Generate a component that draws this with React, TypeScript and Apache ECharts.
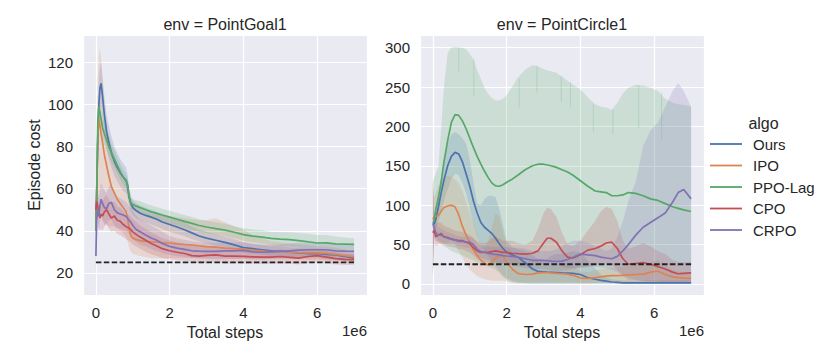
import React, { useEffect, useRef } from 'react';
import * as echarts from 'echarts';

// ---------- data ----------
const ALGOS = ['Ours', 'IPO', 'PPO-Lag', 'CPO', 'CRPO'];
const COLORS = ['#4C72B0', '#DD8452', '#55A868', '#C44E52', '#8172B3'];
const COST_LIMIT = 25;
const STEP_END = 7;

// PointGoal1 (x in 1e6 steps)
const GOAL_STEPS = [0, 0.02, 0.05, 0.08, 0.11, 0.14, 0.18, 0.23, 0.29, 0.35,
  0.42, 0.5, 0.58, 0.66, 0.74, 0.82, 0.86, 0.9, 0.95, 1.0,
  1.1, 1.2, 1.35, 1.5, 1.65, 1.8, 2.0, 2.2, 2.4, 2.6,
  2.8, 3.0, 3.25, 3.5, 3.75, 4.0, 4.25, 4.5, 4.75, 5.0,
  5.25, 5.5, 5.75, 6.0, 6.25, 6.5, 6.75, 7.0];

const GOAL_OURS_MEAN = [45, 58, 82, 100, 108, 110, 104, 95, 87, 82,
  77, 73, 70, 67.5, 65.5, 64, 61, 56, 53, 51,
  49.5, 48.3, 47.3, 46.5, 45.5, 44.2, 43, 41.8, 40.5, 39,
  37.5, 36.5, 35.5, 34.5, 33.3, 32, 31.5, 31, 30.5, 30.4,
  29.8, 29.5, 29.2, 29.2, 28.8, 28.5, 27.8, 27];
const GOAL_OURS_LO = [20, 45, 68, 88, 98, 100, 95, 86, 79, 74,
  70, 66, 63.5, 61, 59, 58, 56, 51.5, 49, 47.5,
  46, 45, 44, 43, 42, 40.8, 39.5, 38.5, 37.5, 36,
  35, 34, 33, 32.2, 31, 29.5, 29.2, 28.6, 28.2, 28,
  27.5, 27.2, 26.8, 26.8, 26.4, 26.2, 25.6, 25];
const GOAL_OURS_HI = [60, 70, 95, 112, 118, 120, 113, 104, 95, 90,
  85, 80, 77, 74, 72, 70, 66.5, 60.5, 57, 54.5,
  53, 52, 51, 50, 49, 47.8, 46.5, 45.5, 44, 42,
  40.5, 39.5, 38.3, 37.2, 36, 34.5, 33.8, 33.4, 32.8, 32.8,
  32.1, 31.8, 31.6, 31.6, 31.2, 30.8, 30, 29.2];

const GOAL_IPO_MEAN = [40, 55, 85, 93, 90, 86, 82, 76, 71, 66,
  61, 58, 55, 53, 51, 49, 46, 41, 37.5, 36.5,
  35.8, 35.3, 35, 34.8, 34.6, 34.4, 34.2, 33.8, 33.5, 33.2,
  32.8, 32.5, 32.2, 31.8, 31.5, 31.3, 30.8, 30.5, 30, 30.2,
  29.8, 29.6, 29.5, 29.5, 29.3, 28.8, 28.2, 27.6];
const GOAL_IPO_LO = [20, 45, 60, 55, 50, 47, 45, 44, 43, 42,
  42, 42, 41, 40, 39, 37, 35, 32, 30, 29,
  28.5, 28, 27.5, 27, 27, 27, 27, 27, 27, 27,
  27, 27, 27, 26.8, 26.6, 26.5, 26.5, 26.5, 26.5, 26.5,
  26.4, 26.3, 26.2, 26, 26, 25.8, 25.6, 25.4];
const GOAL_IPO_HI = [60, 68, 112, 124, 127, 122, 112, 100, 92, 85,
  80, 76, 72, 70, 66, 62, 60, 57, 55, 53.5,
  52, 50, 49, 48, 47.8, 47.5, 47, 46.5, 46, 45.5,
  45, 45, 46, 44, 42, 40.5, 38, 36.5, 35, 34.5,
  34, 33.6, 33.2, 32.8, 32.5, 32, 31.2, 30];

const GOAL_PPO_MEAN = [40, 55, 92, 99, 96, 93, 89, 86, 83, 80,
  77, 74, 71, 68, 65.5, 63.5, 62, 56, 53, 52.5,
  51.7, 51, 50, 49, 48.3, 47.5, 46.5, 45.5, 44.5, 43.5,
  42.5, 41.8, 41, 40.3, 39.3, 38.2, 37.5, 37, 36.4, 36,
  35.8, 35.3, 34.8, 34.2, 34.3, 33.8, 33.7, 33.5];
const GOAL_PPO_LO = [22, 48, 86, 94, 91, 88, 84, 81, 78, 75.5,
  72.5, 70, 67, 64.5, 62, 60, 58.5, 53, 50.5, 49.5,
  48.8, 48, 47, 46, 45.3, 44.5, 43.5, 42.5, 41.5, 40.5,
  39.5, 39, 38.2, 37.4, 36.4, 35.3, 34.5, 34, 33.3, 32.8,
  32.5, 32, 31.5, 31, 31, 30.6, 30.5, 30.3];
const GOAL_PPO_HI = [58, 62, 98, 104, 101, 98, 94, 91, 88, 85,
  81.5, 78.5, 75, 71.5, 69, 67, 65.5, 59, 55.5, 55,
  54.5, 54, 53, 52, 51.3, 50.5, 49.5, 48.5, 47.5, 46.5,
  45.5, 44.8, 44, 43.3, 42.3, 41.2, 40.6, 40.2, 39.6, 39.3,
  39.3, 39, 38.6, 38, 38, 37.3, 36.8, 36.5];

const GOAL_CPO_MEAN = [50, 54, 52, 48, 46, 48, 47, 49, 50, 48,
  46, 47, 45, 44.5, 43, 42, 41.5, 41.3, 40.5, 39.5,
  38.2, 37, 35.5, 34, 32.8, 31.5, 30.5, 29.8, 29.2, 28.2,
  28, 28.3, 28.6, 28, 28, 27.8, 27.6, 27.5, 27.5, 27.8,
  27.4, 27, 27.8, 28.2, 27.5, 26.8, 26.4, 26.3];
const GOAL_CPO_LO = [22, 46, 45, 41, 40, 41, 40, 42, 43, 41,
  39.5, 40, 38.5, 38, 37, 36, 35.5, 35, 34.5, 33.5,
  32.5, 31.5, 30, 28.8, 28, 27, 26.5, 26, 25.8, 25.3,
  24.6, 24.6, 25, 24.4, 24.5, 24.4, 24.3, 24.2, 24.3, 24.5,
  24.3, 24, 24.6, 25, 24.5, 24, 23.8, 23.8];
const GOAL_CPO_HI = [56, 60, 59, 55, 53, 55, 54, 56, 57, 55,
  53, 54, 51.5, 51, 49.5, 48, 47.5, 47.5, 46.5, 45.5,
  44, 42.5, 41, 39.2, 38, 36.6, 35.5, 34.5, 33.8, 32.5,
  32.2, 32.4, 32.6, 31.6, 31.5, 31.2, 30.9, 30.8, 30.7, 31.1,
  30.5, 30, 31, 31.4, 30.5, 29.6, 29, 28.8];

const GOAL_CRPO_MEAN = [28, 45, 50, 47, 52, 55, 53, 51, 50.5, 53,
  53.5, 50, 48.5, 48, 47.5, 46.8, 46, 45, 44, 42.5,
  40.5, 39.5, 38, 36.6, 35.5, 34, 32.6, 31.8, 31.2, 30.5,
  30.3, 30.2, 30.2, 30.5, 30.5, 30.7, 30, 29.8, 30, 30.2,
  30.5, 30.8, 31, 31, 31, 30.5, 30.3, 30.2];
const GOAL_CRPO_LO = [14, 35, 42, 40, 44, 47, 45, 43, 43, 45,
  45.5, 42.5, 41.5, 41, 40.5, 39.8, 39.3, 38.5, 37.5, 36,
  34.5, 33.5, 32.5, 31.5, 30.5, 29.5, 28.5, 28, 27.6, 27.2,
  26.8, 26.6, 26.4, 26.5, 26.6, 26.8, 26.4, 26.3, 26.6, 26.8,
  27, 27.3, 27.5, 27.6, 27.6, 27.3, 27.1, 27];
const GOAL_CRPO_HI = [45, 54, 58, 56, 60, 63, 61, 59, 58, 61,
  61.5, 57.5, 56, 55.5, 54.5, 53.8, 52.7, 51.5, 50.5, 49,
  47, 45.5, 44, 42.5, 41, 39.5, 37.5, 36.5, 35.8, 35,
  34.6, 34.4, 34.2, 34.5, 34.4, 34.6, 33.6, 33.3, 33.4, 33.6,
  34, 34.3, 34.5, 34.4, 34.4, 33.7, 33.5, 33.4];

// PointCircle1
const CIRCLE_STEPS = [0, 0.03, 0.08, 0.15, 0.22, 0.3, 0.4, 0.5, 0.6, 0.7,
  0.8, 0.9, 1.0, 1.1, 1.2, 1.3, 1.4, 1.5, 1.6, 1.7,
  1.8, 1.9, 2.0, 2.15, 2.3, 2.5, 2.7, 2.85, 3.0, 3.1,
  3.2, 3.35, 3.5, 3.65, 3.8, 4.0, 4.2, 4.4, 4.55, 4.7,
  4.85, 5.0, 5.15, 5.3, 5.5, 5.7, 5.9, 6.1, 6.3, 6.5,
  6.65, 6.8, 7.0];

const CIRCLE_OURS_MEAN = [78, 76, 82, 98, 115, 132, 150, 162, 167, 165,
  155, 140, 124, 105, 90, 78, 72, 68, 64, 58,
  51, 45, 40, 37, 34, 27, 19, 16, 15.5, 15,
  14.8, 14.5, 14, 13.8, 13.5, 12, 8, 6, 4.5, 3.5,
  2.5, 2, 1.5, 1.5, 1.5, 1.5, 1.5, 1.5, 1.5, 1.5,
  1.5, 1.5, 1.5];
const CIRCLE_OURS_LO = [10, 65, 70, 80, 90, 105, 120, 133, 140, 138,
  128, 115, 95, 75, 60, 50, 42, 35, 28, 22,
  16, 11, 7, 4, 2, 1, 0.5, 0.5, 0.5, 0.5,
  0.5, 0.5, 0.5, 0.5, 0.5, 0.5, 0.5, 0.5, 0.5, 0.5,
  0.5, 0.5, 0.5, 0.5, 0.5, 0.5, 0.5, 0.5, 0.5, 0.5,
  0.5, 0.5, 0.5];
const CIRCLE_OURS_HI = [125, 90, 95, 115, 135, 158, 178, 190, 193, 190,
  185, 178, 158, 128, 102, 100, 108, 112, 112, 110,
  95, 75, 55, 47, 44, 42, 36, 32, 30, 32,
  36, 38, 38, 40, 42, 40, 30, 20, 12, 8,
  6, 5, 4.5, 4.5, 4.5, 4.5, 4.5, 4.5, 4.5, 4.5,
  4.5, 4.5, 4.5];

const CIRCLE_IPO_MEAN = [82, 85, 86, 87, 92, 97, 99, 100, 98, 88,
  73, 62, 53, 43, 36, 30, 26, 24, 28, 33,
  36, 36, 28, 19, 13.5, 12, 12.5, 14, 14.5, 14.5,
  14, 13.5, 13, 12.5, 11, 7.5, 7, 8, 9, 10,
  10.5, 10.5, 11, 11.5, 12, 12.5, 15, 16.5, 12, 9,
  8, 7.5, 7.2];
const CIRCLE_IPO_LO = [10, 60, 55, 52, 50, 50, 52, 55, 50, 42,
  33, 25, 18, 14, 10, 8, 6, 5, 4, 4,
  4, 4, 3, 2, 2, 2, 2, 2, 2, 2,
  2, 2, 2, 2, 2, 1, 1, 1.5, 2, 2,
  2, 2, 2, 2, 2, 2, 3, 3, 2.5, 2,
  2, 2, 2];
const CIRCLE_IPO_HI = [130, 110, 115, 125, 133, 136, 137, 136, 133, 128,
  118, 105, 90, 76, 62, 50, 45, 55, 72, 90,
  85, 65, 50, 40, 30, 26, 25, 26, 27, 27,
  26, 25, 24, 24, 22, 16, 15, 17, 19, 20,
  21, 21, 22, 23, 24, 25, 28, 30, 24, 18,
  16, 15, 14];

const CIRCLE_PPO_MEAN = [78, 80, 95, 110, 128, 155, 182, 205, 215, 214,
  207, 197, 185, 173, 162, 152, 143, 135, 128, 124.5,
  124, 126, 129, 133, 138, 145, 150, 152, 152, 151,
  150, 148, 145, 142, 138, 131, 124, 118, 117, 116,
  112, 112, 113, 116, 115, 112, 108, 106, 102, 98,
  96, 94, 92];
const CIRCLE_PPO_LO = [10, 70, 65, 55, 50, 48, 45, 42, 40, 38,
  36, 34, 32, 30, 28, 26, 24, 22, 20, 18,
  14, 9, 5, 2, 1, 1, 1, 1, 1, 1,
  1, 1, 1, 1, 1, 1, 1, 1, 1, 1,
  1, 1, 1, 1, 1, 1, 1, 1, 1, 1,
  1, 1, 1];
const CIRCLE_PPO_HI = [130, 135, 140, 150, 195, 250, 293, 300, 301, 300,
  300, 298, 292, 285, 272, 260, 249, 241, 236, 233,
  233, 235, 240, 250, 262, 272, 278, 276, 273, 271,
  270, 268, 263, 258, 253, 247, 237, 228, 225, 224,
  221, 230, 242, 249, 253, 252, 249, 245, 235, 230,
  228, 227, 225];
// thin downward notches in the PPO-Lag upper band edge: [step, from, to]
const CIRCLE_PPO_NOTCH_STEPS = [0.7, 1.11, 2.34, 2.82, 3.48, 3.73, 4.35, 4.88, 5.58, 6.2];
const CIRCLE_PPO_NOTCH_FROM = [300, 285, 260, 277, 264, 256, 228, 221, 252, 243];
const CIRCLE_PPO_NOTCH_TO = [270, 238, 224, 243, 231, 224, 193, 190, 198, 184];

const CIRCLE_CPO_MEAN = [65, 68, 60, 62, 64, 60, 59, 57, 56, 55,
  55, 53, 51, 46, 42, 40, 40, 40, 41, 42,
  41, 40, 40, 39, 38.5, 38, 39, 42, 52, 58,
  58, 53, 42, 34, 33, 37, 43, 45, 48, 52,
  53, 45, 32, 25, 26, 27, 25, 22, 19, 15,
  13, 13.5, 14];
const CIRCLE_CPO_LO = [10, 52, 48, 50, 52, 50, 48, 47, 46, 44,
  44, 42, 40, 36, 32, 30, 28, 27, 27, 26,
  26, 26, 26, 25, 25, 24, 24, 24, 25, 26,
  26, 25, 22, 20, 20, 20, 22, 24, 25, 26,
  24, 18, 10, 5, 5, 4, 3, 3, 2, 2,
  2, 2, 2];
const CIRCLE_CPO_HI = [130, 85, 78, 78, 78, 74, 72, 70, 68, 67,
  66, 64, 62, 58, 54, 52, 52, 54, 58, 60,
  58, 55, 55, 55, 52, 50, 55, 70, 90, 97,
  95, 85, 65, 50, 48, 55, 68, 80, 92, 98,
  95, 80, 55, 45, 48, 52, 48, 42, 38, 30,
  28, 28, 28];

const CIRCLE_CRPO_MEAN = [76, 72, 65, 62, 62, 60, 58, 57, 56, 54,
  54, 53, 53, 50, 44, 41, 40, 39, 38, 37.5,
  37, 36, 35.5, 35, 34, 32, 30, 30, 30, 29.5,
  29, 28.5, 29, 31, 34, 38, 37, 36, 34, 33,
  32, 35, 42, 50, 62, 72, 78, 84, 90, 104,
  116, 120, 108];
const CIRCLE_CRPO_LO = [10, 60, 55, 54, 54, 52, 50, 50, 50, 48,
  48, 46, 46, 42, 36, 33, 32, 30, 29, 28,
  27, 26, 25, 24, 22, 20, 19, 19, 19, 18,
  17, 16, 16, 17, 19, 22, 22, 22, 21, 20,
  18, 15, 12, 8, 5, 3, 2, 1.5, 1.5, 1.5,
  1.5, 1.5, 1.5];
const CIRCLE_CRPO_HI = [130, 85, 78, 72, 70, 68, 66, 64, 62, 61,
  60, 60, 60, 58, 52, 49, 48, 48, 47, 47,
  47, 47, 47, 46, 46, 45, 42, 42, 42, 42,
  42, 44, 48, 52, 55, 55, 52, 48, 45, 42,
  45, 60, 80, 105, 130, 175, 195, 205, 225, 245,
  255, 245, 225];

const PANELS = [
  {
    title: 'env = PointGoal1',
    steps: GOAL_STEPS,
    mean: [GOAL_OURS_MEAN, GOAL_IPO_MEAN, GOAL_PPO_MEAN, GOAL_CPO_MEAN, GOAL_CRPO_MEAN],
    lo: [GOAL_OURS_LO, GOAL_IPO_LO, GOAL_PPO_LO, GOAL_CPO_LO, GOAL_CRPO_LO],
    hi: [GOAL_OURS_HI, GOAL_IPO_HI, GOAL_PPO_HI, GOAL_CPO_HI, GOAL_CRPO_HI],
    notches: null as null | { algo: number; steps: number[]; from: number[]; to: number[] },
  },
  {
    title: 'env = PointCircle1',
    steps: CIRCLE_STEPS,
    mean: [CIRCLE_OURS_MEAN, CIRCLE_IPO_MEAN, CIRCLE_PPO_MEAN, CIRCLE_CPO_MEAN, CIRCLE_CRPO_MEAN],
    lo: [CIRCLE_OURS_LO, CIRCLE_IPO_LO, CIRCLE_PPO_LO, CIRCLE_CPO_LO, CIRCLE_CRPO_LO],
    hi: [CIRCLE_OURS_HI, CIRCLE_IPO_HI, CIRCLE_PPO_HI, CIRCLE_CPO_HI, CIRCLE_CRPO_HI],
    notches: { algo: 2, steps: CIRCLE_PPO_NOTCH_STEPS, from: CIRCLE_PPO_NOTCH_FROM, to: CIRCLE_PPO_NOTCH_TO },
  },
];

// ---------- layout / style ----------
const FONT = "'Liberation Sans', Arial, sans-serif";
const TEXT = '#262626';
const BG = '#EAEAF2';
const GRID_LEFT = [83, 420];
const GRID_TOP = 35;
const GRID_W = 284;
const GRID_H = 260;
const X_RANGE = [-0.35, 7.35];
const Y_RANGES = [[9.5, 133], [-14, 316]];
const Y_SPLIT = [20, 50];

const multipleOf = (step: number) => (v: number) => {
  const r = v / step;
  return Math.abs(r - Math.round(r)) < 1e-6 ? String(Math.round(v)) : '';
};

function buildOption() {
  const grid: any[] = [];
  const xAxis: any[] = [];
  const yAxis: any[] = [];
  const series: any[] = [];
  const graphic: any[] = [];

  PANELS.forEach((panel, p) => {
    grid.push({
      left: GRID_LEFT[p], top: GRID_TOP, width: GRID_W, height: GRID_H,
      show: true, backgroundColor: BG, borderWidth: 0, containLabel: false,
    });
    xAxis.push({
      type: 'value', gridIndex: p, min: X_RANGE[0], max: X_RANGE[1], splitNumber: 4,
      axisLine: { show: false }, axisTick: { show: false },
      splitLine: { show: true, lineStyle: { color: '#FFFFFF', width: 1.2 } },
      axisLabel: { color: TEXT, fontSize: 15, fontFamily: FONT, margin: 10, formatter: multipleOf(2) },
      name: 'Total steps', nameLocation: 'middle', nameGap: 28,
      nameTextStyle: { color: TEXT, fontSize: 16, fontFamily: FONT },
    });
    yAxis.push({
      type: 'value', gridIndex: p, min: Y_RANGES[p][0], max: Y_RANGES[p][1], splitNumber: 6,
      axisLine: { show: false }, axisTick: { show: false },
      splitLine: { show: true, lineStyle: { color: '#FFFFFF', width: 1.2 } },
      axisLabel: { color: TEXT, fontSize: 15, fontFamily: FONT, margin: 10, formatter: multipleOf(Y_SPLIT[p]) },
      name: p === 0 ? 'Episode cost' : '', nameLocation: 'middle', nameGap: 41,
      nameTextStyle: { color: TEXT, fontSize: 16, fontFamily: FONT },
    });

    // confidence bands, drawn as polygons through the axis scales
    ALGOS.forEach((algo, i) => {
      const steps = panel.steps;
      const lo = panel.lo[i];
      const hi = panel.hi[i];
      series.push({
        type: 'custom', xAxisIndex: p, yAxisIndex: p, silent: true, z: 1,
        data: [[steps[0], lo[0]]],
        renderItem: (params: any, api: any) => {
          const upper = steps.map((x, k) => api.coord([x, hi[k]]));
          const lower = steps.map((x, k) => api.coord([x, lo[k]])).reverse();
          return {
            type: 'polygon',
            shape: { points: upper.concat(lower) },
            style: { fill: COLORS[i], opacity: 0.2 },
          };
        },
      });
    });

    if (panel.notches) {
      const nt = panel.notches;
      series.push({
        type: 'custom', xAxisIndex: p, yAxisIndex: p, silent: true, z: 2,
        data: nt.steps.map((x, k) => [x, nt.from[k], nt.to[k]]),
        renderItem: (params: any, api: any) => {
          const a = api.coord([api.value(0), api.value(1)]);
          const b = api.coord([api.value(0), api.value(2)]);
          return {
            type: 'line',
            shape: { x1: a[0], y1: a[1], x2: b[0], y2: b[1] },
            style: { stroke: COLORS[nt.algo], opacity: 0.22, lineWidth: 1 },
          };
        },
      });
    }

    ALGOS.forEach((algo, i) => {
      series.push({
        name: algo, type: 'line', xAxisIndex: p, yAxisIndex: p, symbol: 'none', z: 3,
        lineStyle: { color: COLORS[i], width: 1.7 }, itemStyle: { color: COLORS[i] },
        data: panel.steps.map((x, k) => [x, panel.mean[i][k]]),
      });
    });
    series.push({
      type: 'line', xAxisIndex: p, yAxisIndex: p, symbol: 'none', z: 4, silent: true,
      lineStyle: { color: '#222222', width: 1.8, type: [5.5, 2.4] },
      data: [[0, COST_LIMIT], [STEP_END, COST_LIMIT]],
    });

    graphic.push({
      type: 'text', x: GRID_LEFT[p] + GRID_W / 2, y: 24,
      style: { text: panel.title, fill: TEXT, font: `16px ${FONT}`, textAlign: 'center', textVerticalAlign: 'middle' },
    });
    graphic.push({
      type: 'text', x: GRID_LEFT[p] + GRID_W, y: 330,
      style: { text: '1e6', fill: TEXT, font: `15px ${FONT}`, textAlign: 'right', textVerticalAlign: 'middle' },
    });
  });

  graphic.push({
    type: 'text', x: 763.5, y: 123,
    style: { text: 'algo', fill: TEXT, font: `16px ${FONT}`, textAlign: 'center', textVerticalAlign: 'middle' },
  });

  return {
    animation: false,
    backgroundColor: '#FFFFFF',
    grid, xAxis, yAxis, series, graphic,
    legend: {
      data: ALGOS, orient: 'vertical', left: 705, top: 131.5,
      icon: 'rect', itemWidth: 32, itemHeight: 1.8, itemGap: 6.5, selectedMode: false,
      textStyle: { color: TEXT, fontSize: 15, fontFamily: FONT, lineHeight: 15, padding: [0, 0, 0, 6] },
    },
  };
}

export default function App() {
  const ref = useRef<HTMLDivElement>(null);
  useEffect(() => {
    if (!ref.current) return;
    const chart = echarts.init(ref.current, undefined, { renderer: 'svg' });
    chart.setOption(buildOption() as any);
    return () => chart.dispose();
  }, []);
  return (
    <div
      ref={ref}
      style={{ position: 'fixed', left: 0, top: 0, width: 830, height: 356, background: '#fff' }}
    />
  );
}
